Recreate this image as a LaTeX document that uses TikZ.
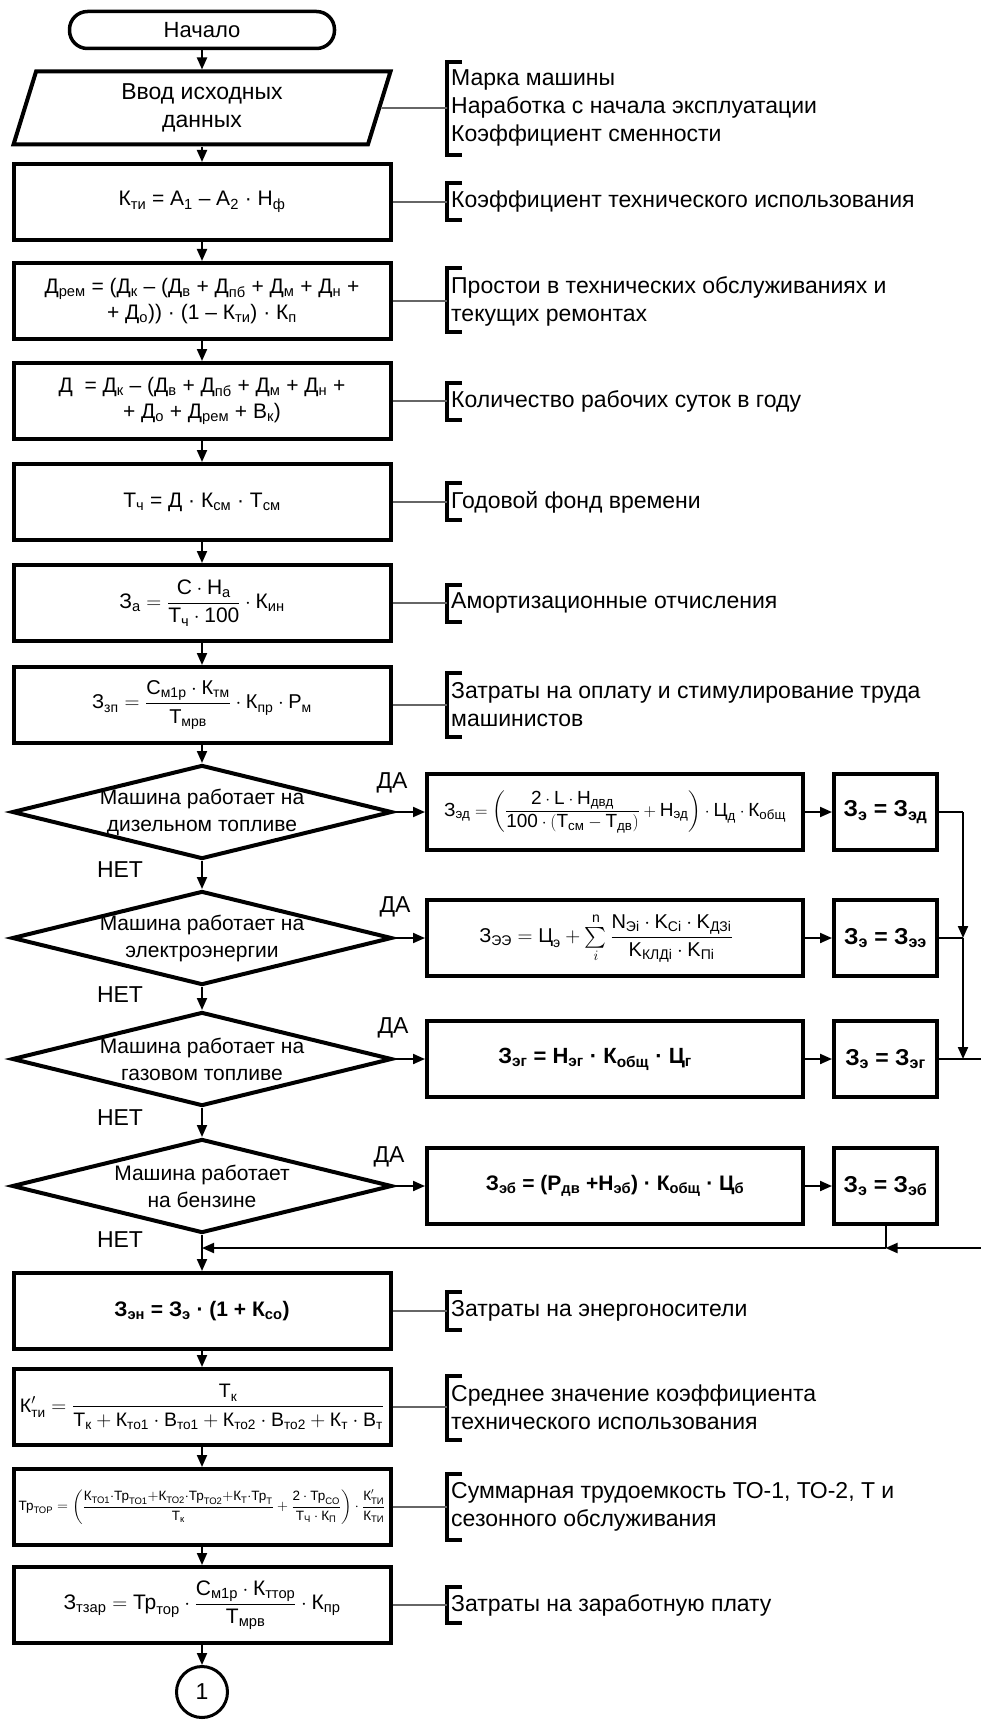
\documentclass[tikz,border=0pt]{standalone}
\usepackage{amsmath}
\usepackage{fontspec}
\setmainfont{Liberation Sans}
\usetikzlibrary{arrows.meta,shapes.geometric}
\newcommand{\tx}[1]{\text{#1}}
\newcommand{\Vs}[2]{\text{#1}_{\text{#2}}}
\newcommand{\sbs}[1]{\textsubscript{#1}}
\newcommand{\brkt}[4]{\draw[brk] (462,#2) -- (447,#2) -- (447,#3) -- (462,#3); \coordinate (#1) at (447,#4);}
\begin{document}
\begin{tikzpicture}[x=1pt,y=-1pt,
  box/.style={draw, line width=4pt, minimum width=377pt, minimum height=76pt, inner sep=0pt, align=center},
  fbox/.style={draw, line width=4pt, minimum width=376pt, minimum height=76pt, inner sep=0pt, align=center},
  sbox/.style={draw, line width=4pt, minimum width=103pt, minimum height=76pt, inner sep=0pt, font=\fontsize{23}{27}\selectfont\bfseries},
  dia/.style={draw, diamond, line width=4pt, minimum width=380pt, minimum height=94pt, inner sep=0pt},
  dtext/.style={align=center, inner sep=0pt, font=\fontsize{21}{27}\selectfont},
  ftext/.style={font=\fontsize{21}{26}\selectfont},
  lab/.style={inner sep=0pt, font=\fontsize{23}{27}\selectfont},
  arr/.style={line width=2pt, -{Triangle[length=12pt,width=10pt]}},
  ln/.style={line width=2pt},
  note/.style={draw=black!60, line width=1.8pt},
  brk/.style={line width=3.5pt},
  ann/.style={anchor=west, align=left, inner sep=0pt, font=\fontsize{23}{28}\selectfont}
]
\useasboundingbox (0,0) rectangle (980,1720);
\fill[white] (0,0) rectangle (980,1720);

% ---------- main column ----------
\node[draw, line width=3.5pt, rounded corners=18pt, minimum width=265pt, minimum height=37pt,
      font=\fontsize{22}{26}\selectfont] (start) at (202,30) {Начало};
\node[draw, trapezium, trapezium left angle=65, trapezium right angle=115, trapezium stretches body,
      line width=4pt, minimum width=377pt, minimum height=73pt, inner sep=0pt, align=center,
      font=\fontsize{23}{28}\selectfont] (inp) at (202,108) {Ввод исходных\\данных};

\node[box, ftext] (kti) at (202,202) {К\sbs{ти} = А\sbs{1} – А\sbs{2} · Н\sbs{ф}};
\node[box, ftext] (drem) at (202,301) {Д\sbs{рем} = (Д\sbs{к} – (Д\sbs{в} + Д\sbs{пб} + Д\sbs{м} + Д\sbs{н} +\\+ Д\sbs{о})) · (1 – К\sbs{ти}) · К\sbs{п}};
\node[box, ftext] (dd) at (202,401) {Д\ \ = Д\sbs{к} – (Д\sbs{в} + Д\sbs{пб} + Д\sbs{м} + Д\sbs{н} +\\+ Д\sbs{о} + Д\sbs{рем} + В\sbs{к})};
\node[box, ftext] (tch) at (202,502) {Т\sbs{ч} = Д · К\sbs{см} · Т\sbs{см}};
\node[box, ftext] (za) at (202,603) {$\Vs{З}{а} = \dfrac{\tx{С}\cdot\Vs{Н}{а}}{\Vs{Т}{ч}\cdot\tx{100}}\cdot\Vs{К}{ин}$};
\node[box, font=\fontsize{20}{25}\selectfont] (zp) at (202,705) {$\Vs{З}{зп} = \dfrac{\Vs{С}{м1р}\cdot\Vs{К}{тм}}{\Vs{Т}{мрв}}\cdot\Vs{К}{пр}\cdot\Vs{Р}{м}$};

% decisions
\node[dia] (d1) at (202,812) {};
\node[dtext] (d1t) at (202,812) {Машина работает на\\дизельном топливе};
\node[dia] (d2) at (202,938) {};
\node[dtext] (d2t) at (202,938) {Машина работает на\\электроэнергии};
\node[dia] (d3) at (202,1059) {};
\node[dtext] (d3t) at (202,1059) {Машина работает на\\газовом топливе};
\node[dia] (d4) at (202,1186) {};
\node[dtext] (d4t) at (202,1186) {Машина работает\\на бензине};

% right formula boxes
\node[fbox, font=\fontsize{19}{24}\selectfont] (f1) at (615,812) {$\Vs{З}{эд} = \left(\dfrac{\tx{2}\cdot\tx{L}\cdot\Vs{Н}{двд}}{\tx{100}\cdot\left(\Vs{Т}{см} - \Vs{Т}{дв}\right)} + \Vs{Н}{эд}\right)\cdot\Vs{Ц}{д}\cdot\Vs{К}{общ}$};
\node[fbox, font=\fontsize{20}{24}\selectfont] (f2) at (615,938) {$\Vs{З}{ЭЭ} = \Vs{Ц}{э} + \sum\limits_{i}^{\tx{n}} \dfrac{\Vs{N}{Эi}\cdot\Vs{K}{Ci}\cdot\Vs{K}{ДЗi}}{\Vs{K}{КЛДi}\cdot\Vs{K}{Пi}}$\hspace*{18pt}};
\node[fbox, font=\fontsize{22}{26}\selectfont\bfseries] (f3) at (615,1059) {З\sbs{эг} = Н\sbs{эг} · К\sbs{общ} · Ц\sbs{г}\hspace*{40pt}};
\node[fbox, font=\fontsize{21}{26}\selectfont\bfseries] (f4) at (615,1186) {З\sbs{эб} = (Р\sbs{дв} +Н\sbs{эб}) · К\sbs{общ} · Ц\sbs{б}};

\node[sbox] (s1) at (885.5,812) {З\sbs{э} = З\sbs{эд}};
\node[sbox] (s2) at (885.5,938) {З\sbs{э} = З\sbs{ээ}};
\node[sbox] (s3) at (885.5,1059) {З\sbs{э} = З\sbs{эг}};
\node[sbox] (s4) at (885.5,1186) {З\sbs{э} = З\sbs{эб}};

% labels
\node[lab] (y1) at (392,783) {ДА};
\node[lab] (y2) at (395,907) {ДА};
\node[lab] (y3) at (393,1028) {ДА};
\node[lab] (y4) at (389,1157) {ДА};
\node[lab] (n1) at (120,870) {НЕТ};
\node[lab] (n2) at (120,995) {НЕТ};
\node[lab] (n3) at (120,1118) {НЕТ};
\node[lab] (n4) at (120,1240) {НЕТ};

% lower boxes
\node[box, font=\fontsize{21}{26}\selectfont\bfseries] (zen) at (202,1311) {З\sbs{эн} = З\sbs{э} · (1 + К\sbs{со})};
\node[box, font=\fontsize{19.5}{24}\selectfont] (kt) at (202,1407) {$\tx{К}'_{\tx{ти}} = \dfrac{\Vs{Т}{к}}{\Vs{Т}{к} + \Vs{К}{то1}\cdot\Vs{В}{то1} + \Vs{К}{то2}\cdot\Vs{В}{то2} + \Vs{К}{т}\cdot\Vs{В}{т}}$};
\node[box, font=\fontsize{13.5}{16}\selectfont] (tr) at (202,1507) {$\Vs{Тр}{ТОР} = \left(\dfrac{\Vs{К}{ТО1}{\cdot}\Vs{Тр}{ТО1}{+}\Vs{К}{ТО2}{\cdot}\Vs{Тр}{ТО2}{+}\Vs{К}{Т}{\cdot}\Vs{Тр}{Т}}{\Vs{Т}{к}} + \dfrac{\tx{2}\cdot\Vs{Тр}{СО}}{\Vs{Т}{Ч}\cdot\Vs{К}{П}}\right)\cdot\dfrac{\tx{К}'_{\tx{ТИ}}}{\Vs{К}{ТИ}}$};
\node[box, ftext] (zt) at (202,1605) {$\Vs{З}{тзар} = \Vs{Тр}{тор}\cdot\dfrac{\Vs{С}{м1р}\cdot\Vs{К}{ттор}}{\Vs{Т}{мрв}}\cdot\Vs{К}{пр}$};
\node[draw, circle, line width=3pt, minimum size=51pt, inner sep=0pt, font=\fontsize{23}{27}\selectfont] (c1) at (202,1692) {1};

% ---------- main connectors ----------
\draw[arr] (start) -- (inp);
\draw[arr] (inp) -- (kti);
\draw[arr] (kti) -- (drem);
\draw[arr] (drem) -- (dd);
\draw[arr] (dd) -- (tch);
\draw[arr] (tch) -- (za);
\draw[arr] (za) -- (zp);
\draw[arr] (zp) -- (d1);
\draw[arr] (d1) -- (d2);
\draw[arr] (d2) -- (d3);
\draw[arr] (d3) -- (d4);
\draw[arr] (d4) -- (zen);
\draw[arr] (zen) -- (kt);
\draw[arr] (kt) -- (tr);
\draw[arr] (tr) -- (zt);
\draw[arr] (zt) -- (c1);

\draw[arr] (d1) -- (f1);
\draw[arr] (d2) -- (f2);
\draw[arr] (d3) -- (f3);
\draw[arr] (d4) -- (f4);
\draw[arr] (f1) -- (s1);
\draw[arr] (f2) -- (s2);
\draw[arr] (f3) -- (s3);
\draw[arr] (f4) -- (s4);

\coordinate (r1) at (963,812);
\coordinate (r2) at (963,938);
\coordinate (r3) at (963,1059);
\coordinate (e3) at (981,1059);
\coordinate (e4) at (981,1248);
\coordinate (j4) at (885.5,1248);
\coordinate (jm) at (202,1248);
\draw[ln] (s1.east) -- (r1);
\draw[arr] (r1) -- (r2);
\draw[ln] (s2.east) -- (r2);
\draw[arr] (r2) -- (r3);
\draw[ln] (s3.east) -- (e3);
\draw[ln] (s4.south) -- (j4);
\draw[arr] (e4) -- (j4);
\draw[arr] (j4) -- (jm);

% ---------- annotations ----------
\brkt{b0}{62}{155}{108}
\brkt{b1}{183}{220}{202}
\brkt{b2}{268}{332}{301}
\brkt{b3}{383}{420}{401}
\brkt{b4}{483}{520}{502}
\brkt{b5}{585}{622}{603}
\brkt{b6}{673}{737}{705}
\brkt{b7}{1292}{1330}{1311}
\brkt{b8}{1376}{1440}{1407}
\brkt{b9}{1474}{1540}{1507}
\brkt{b10}{1587}{1623}{1605}

\draw[note] (inp.east) -- (b0);
\draw[note] (kti.east) -- (b1);
\draw[note] (drem.east) -- (b2);
\draw[note] (dd.east) -- (b3);
\draw[note] (tch.east) -- (b4);
\draw[note] (za.east) -- (b5);
\draw[note] (zp.east) -- (b6);
\draw[note] (zen.east) -- (b7);
\draw[note] (kt.east) -- (b8);
\draw[note] (tr.east) -- (b9);
\draw[note] (zt.east) -- (b10);

\node[ann] (a0) at (451,108) {Марка машины\\Наработка с начала эксплуатации\\Коэффициент сменности};
\node[ann] (a1) at (451,202) {Коэффициент технического использования};
\node[ann] (a2) at (451,301) {Простои в технических обслуживаниях и\\текущих ремонтах};
\node[ann] (a3) at (451,401) {Количество рабочих суток в году};
\node[ann] (a4) at (451,502) {Годовой фонд времени};
\node[ann] (a5) at (451,603) {Амортизационные отчисления};
\node[ann] (a6) at (451,705) {Затраты на оплату и стимулирование труда\\машинистов};
\node[ann] (a7) at (451,1311) {Затраты на энергоносители};
\node[ann] (a8) at (451,1407) {Среднее значение коэффициента\\технического использования};
\node[ann] (a9) at (451,1507) {Суммарная трудоемкость ТО-1, ТО-2, Т и\\сезонного обслуживания};
\node[ann] (a10) at (451,1605) {Затраты на заработную плату};
\end{tikzpicture}
\end{document}
